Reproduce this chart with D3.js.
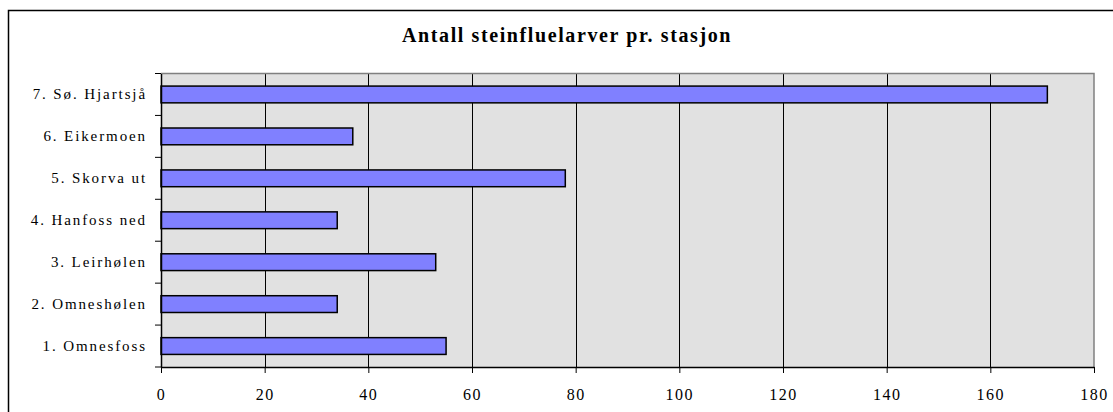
<!DOCTYPE html>
<html><head><meta charset="utf-8">
<script src="https://cdn.jsdelivr.net/npm/d3@7"></script>
<style>body{margin:0;background:#fff}svg{display:block}</style>
</head><body>
<svg id="c" width="1113" height="412"></svg>
<script>
const categories = ["1. Omnesfoss","2. Omneshølen","3. Leirhølen","4. Hanfoss ned","5. Skorva ut","6. Eikermoen","7. Sø. Hjartsjå"];
const values = [55, 34, 53, 34, 78, 37, 171];
const xTicks = [0,20,40,60,80,100,120,140,160,180];
const title = "Antall steinfluelarver pr. stasjon";

const FONT = "'Liberation Serif', 'Times New Roman', serif";
const svg = d3.select("#c");
const m = {left:161, right:1094, top:73.5, bottom:367};
svg.append("rect").attr("x",8.5).attr("y",10.5).attr("width",1120).attr("height",420)
  .attr("fill","#fff").attr("stroke","#000").attr("stroke-width",1.5);

const x = d3.scaleLinear().domain([0,180]).range([m.left,m.right]);
const y = d3.scaleBand().domain(categories.slice().reverse()).range([m.top,m.bottom]).paddingInner(0.6).paddingOuter(0.3);
const yb = d3.scaleBand().domain(categories.slice().reverse()).range([m.top,m.bottom]);

svg.append("rect").attr("x",m.left).attr("y",m.top).attr("width",m.right-m.left).attr("height",m.bottom-m.top)
  .attr("fill","#e1e1e1");
svg.append("g").selectAll("line").data(xTicks.slice(1,-1)).join("line")
  .attr("x1",d=>Math.round(x(d))+0.5).attr("x2",d=>Math.round(x(d))+0.5)
  .attr("y1",m.top).attr("y2",m.bottom).attr("stroke","#000").attr("stroke-width",1);
svg.append("path").attr("d",`M${m.left},${m.top}H${m.right}V${m.bottom}`).attr("fill","none")
  .attr("stroke","#808080").attr("stroke-width",1.5);

svg.append("g").selectAll("rect").data(categories).join("rect")
  .attr("x",x(0)).attr("y",d=>y(d)).attr("width",(d,i)=>x(values[i])-x(0)).attr("height",y.bandwidth())
  .attr("fill","#8080ff").attr("stroke","#000").attr("stroke-width",1.5);

const xa = svg.append("g").attr("transform",`translate(0,${m.bottom})`)
  .call(d3.axisBottom(x).tickValues(xTicks).tickSize(6).tickPadding(16).tickSizeOuter(0));
xa.select(".domain").attr("stroke","#000").attr("stroke-width",1.5);
xa.selectAll("text").attr("font-family",FONT).attr("font-size",16).attr("letter-spacing","1.5px").attr("fill","#000");

const ya = svg.append("g").attr("transform",`translate(${m.left},0)`)
  .call(d3.axisLeft(yb).tickSize(0).tickPadding(14));
ya.select(".domain").attr("stroke","#000").attr("stroke-width",1.5);
ya.selectAll("text").attr("font-family",FONT).attr("font-size",15).attr("letter-spacing","1.9px").attr("fill","#000");
const bounds = categories.map(c=>yb(c)).concat([m.bottom]);
svg.append("g").selectAll("line").data(bounds).join("line")
  .attr("x1",m.left-6).attr("x2",m.left).attr("y1",d=>d).attr("y2",d=>d)
  .attr("stroke","#000").attr("stroke-width",1);

svg.append("text").attr("x",567).attr("y",42).attr("text-anchor","middle")
  .attr("font-family",FONT).attr("font-weight","bold").attr("font-size",20)
  .attr("letter-spacing","1.6px").text(title);
</script>
</body></html>
